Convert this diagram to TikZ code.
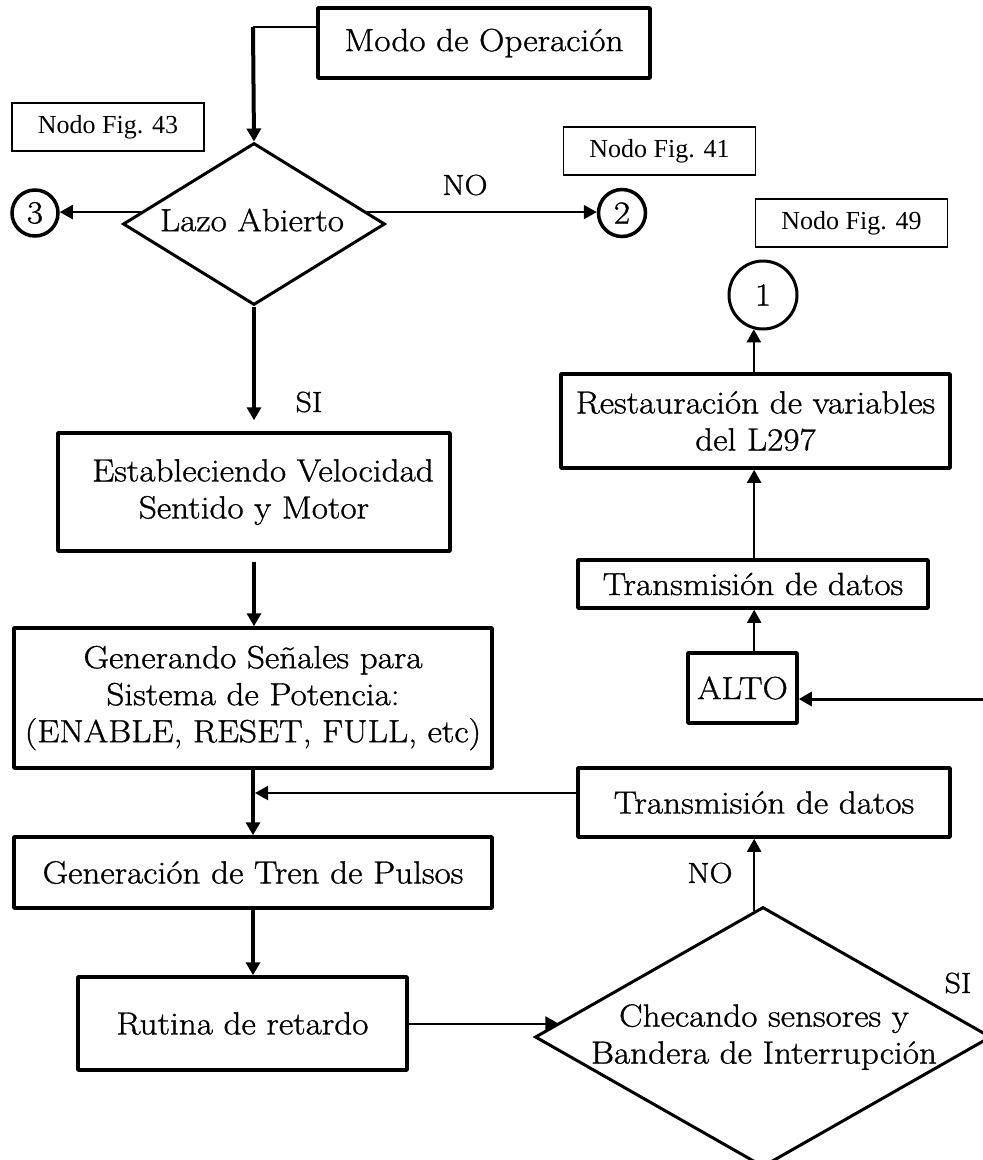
\documentclass[tikz,border=0pt]{standalone}
\usepackage{fontspec}
\setmainfont{Latin Modern Roman}[FakeStretch=1.1, FakeBold=1]
\newfontfamily\tagfam{Liberation Serif}
\usetikzlibrary{arrows.meta,shapes.geometric}
\newcommand\mainsz{\fontsize{32}{37}\selectfont}
\newcommand\lblsz{\fontsize{29}{33}\selectfont}
\newcommand\tagsz{\tagfam\fontsize{26}{30}\selectfont}

\begin{document}
\begin{tikzpicture}[x=1pt,y=-1pt,
  box/.style={draw, line width=3.5pt, line join=round, fill=white, inner sep=0pt,
              align=center, font=\mainsz},
  tag/.style={draw, line width=1.3pt, inner sep=0pt, minimum width=192, minimum height=48,
              font=\tagsz},
  conn/.style={circle, draw, line width=3.5pt, fill=white, inner sep=0pt, font=\mainsz},
  dia/.style={diamond, draw, line width=3pt, line join=miter, fill=white, inner sep=0pt},
  txt/.style={font=\mainsz, align=center, inner sep=0pt},
  lbl/.style={font=\lblsz, inner sep=0pt},
  tip/.style={-{Triangle[length=13pt,width=14pt]}},
  flow/.style={tip, line width=2pt},
  heavy/.style={tip, line width=4pt},
  hairline/.style={line width=1.3pt}]
\useasboundingbox (0,0) rectangle (983,1160);
\clip (0,0) rectangle (983,1160);

% ---- left column ----
\node[box, minimum width=332, minimum height=70] (modo) at (484,43) {Modo de Operación};
\node[dia, minimum width=262, minimum height=162] (lazo) at (254,224) {};
\node[txt] (lazot) at (252,220) {Lazo Abierto};
\node[box, minimum width=392, minimum height=118] (vel) at (254,492)
  {\hspace*{18pt}Estableciendo Velocidad\\Sentido y Motor};
\node[box, minimum width=478, minimum height=140] (sen) at (253,698)
  {Generando Señales para\\Sistema de Potencia:\\(ENABLE, RESET, FULL, etc)};
\node[box, minimum width=478, minimum height=71] (tren) at (253,872.5)
  {Generación de Tren de Pulsos};
\node[box, minimum width=329, minimum height=93] (ret) at (242.5,1023.5)
  {Rutina de retardo};

% ---- connectors (off-page references) ----
\node[conn, minimum size=46] (c3) at (35,213) {3};
\node[conn, minimum size=47] (c2) at (622,213) {2};
\node[conn, line width=3pt, minimum size=68] (c1) at (763,295) {1};

% ---- reference tags ----
\node[tag] (n43) at (108,127) {Nodo Fig. 43};
\node[tag] (n41) at (659.5,151) {Nodo Fig. 41};
\node[tag] (n49) at (851.5,223) {Nodo Fig. 49};

% ---- right column ----
\node[box, minimum width=389, minimum height=94] (rest) at (755.5,421)
  {Restauración de variables\\del L297};
\node[box, minimum width=350, minimum height=48] (tx1) at (753,584) {Transmisión de datos};
\node[box, minimum width=109, minimum height=70] (alto) at (742.5,688) {ALTO};
\node[box, minimum width=372, minimum height=69] (tx2) at (764,802.5) {Transmisión de datos};
\node[dia, minimum width=456, minimum height=260] (chk) at (763,1037) {};
\node[txt] (chkt) at (764,1037) {Checando sensores y\\Bandera de Interrupción};

% ---- branch labels ----
\node[lbl] (no1) at (465,185) {NO};
\node[lbl] (si1) at (309,402) {SI};
\node[lbl] (no2) at (710,873) {NO};
\node[lbl] (si2) at (958,983) {SI};

% ---- helper points ----
\coordinate (bend) at (253,27);
\coordinate (merge) at (253,793);
\coordinate (haltin) at (983,699);

% ---- flow lines ----
\draw[hairline] (modo.west |- bend) -- (bend);
\draw[heavy] (bend) -- (lazo.north);
\draw[flow] (lazo.174) -- (lazo.174 -| c3.east);
\draw[flow] (lazo.6) -- (lazo.6 -| c2.west);
\draw[heavy, shorten >=11pt] (lazo.south) -- (vel.north);
\draw[heavy, shorten <=9pt] (vel.south) -- (vel.south |- sen.north);
\draw[heavy] (sen.south) -- (tren.north);
\draw[flow, shorten >=2pt] (tx2.west |- merge) -- (merge);
\draw[heavy] (tren.south) -- (tren.south |- ret.north);
\draw[flow] (ret.east) -- (ret.east -| chk.176);
\draw[flow] (chk.94) -- (tx2.south -| chk.94);
\draw[tip, line width=3pt] (haltin) -- (haltin -| alto.east);
\draw[flow] (alto.north -| chk.94) -- (tx1.south -| chk.94);
\draw[flow] (tx1.north -| chk.94) -- (rest.south -| chk.94);
\draw[flow] (rest.north -| c1.255) -- (c1.255);
\end{tikzpicture}
\end{document}
